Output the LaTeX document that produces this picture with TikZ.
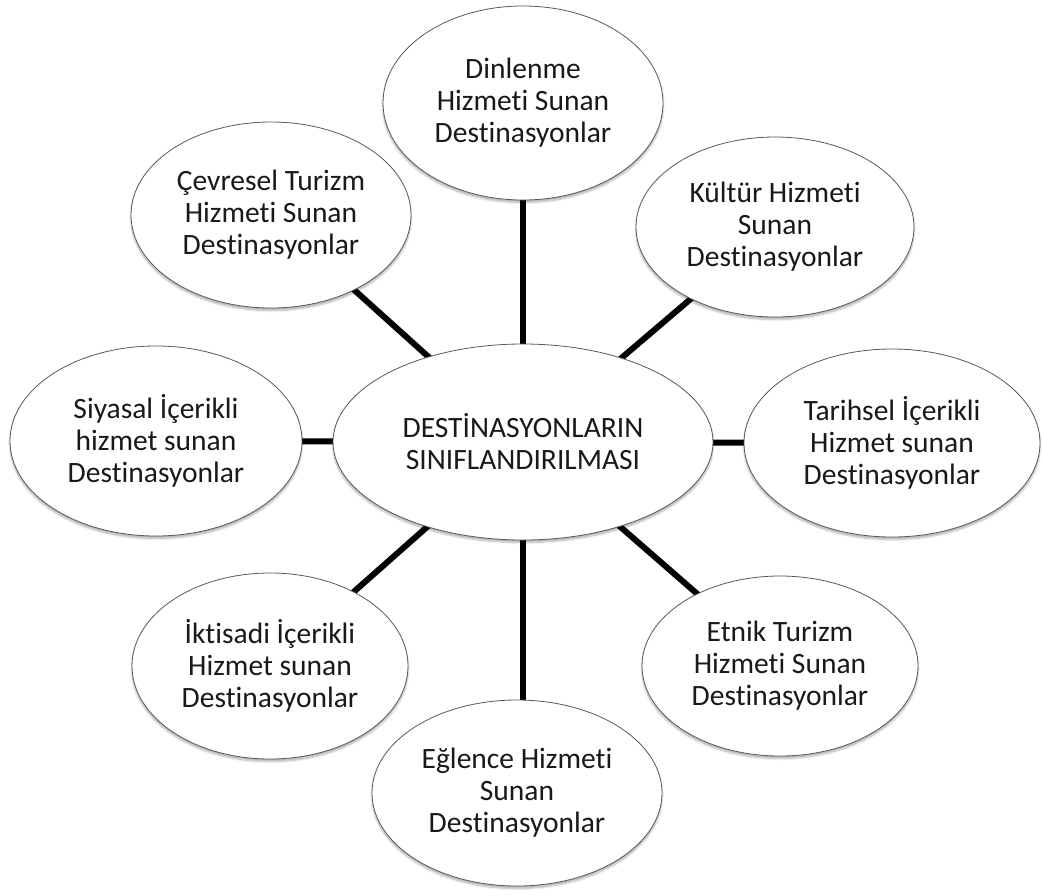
\documentclass[tikz,border=0pt]{standalone}
\usepackage{fontspec}
\setmainfont{Carlito}[Ligatures={TeX,NoCommon,NoContextual}]
\usetikzlibrary{shapes.geometric,shadows.blur,backgrounds}
\begin{document}
\begin{tikzpicture}[x=1pt,y=-1pt,
  bubble/.style={ellipse,draw=black!65,line width=0.8pt,fill=white,inner sep=0pt,
    align=center,font=\fontsize{29.5}{32}\selectfont,text=black!90,
    blur shadow={shadow xshift=0pt,shadow yshift=-2.5pt,shadow blur steps=6,shadow blur extra rounding=1.5pt,shadow opacity=30}},
  spoke/.style={line width=6pt,black}]
\useasboundingbox (0,0) rectangle (1042,895);
\node[bubble,minimum width=380pt,minimum height=196pt] (c) at (523,442) {DESTİNASYONLARIN\\SINIFLANDIRILMASI};
\node[bubble,minimum width=280pt,minimum height=194pt] (n1) at (523,103) {Dinlenme\\Hizmeti Sunan\\Destinasyonlar};
\node[bubble,minimum width=280pt,minimum height=186pt] (n2) at (271,215) {Çevresel Turizm\\Hizmeti Sunan\\Destinasyonlar};
\node[bubble,minimum width=278pt,minimum height=180pt] (n3) at (775,227) {Kültür Hizmeti\\Sunan\\Destinasyonlar};
\node[bubble,minimum width=292pt,minimum height=190pt] (n4) at (156,441) {Siyasal İçerikli\\hizmet sunan\\Destinasyonlar};
\node[bubble,minimum width=296pt,minimum height=188pt] (n5) at (892,443) {Tarihsel İçerikli\\Hizmet sunan\\Destinasyonlar};
\node[bubble,minimum width=276pt,minimum height=186pt] (n6) at (270,666) {İktisadi İçerikli\\Hizmet sunan\\Destinasyonlar};
\node[bubble,minimum width=276pt,minimum height=180pt] (n7) at (780,666) {Etnik Turizm\\Hizmeti Sunan\\Destinasyonlar};
\node[bubble,minimum width=290pt,minimum height=186pt] (n8) at (517,793) {Eğlence Hizmeti\\Sunan\\Destinasyonlar};
\begin{scope}[on background layer]
\foreach \n in {n1,n2,n3,n4,n5,n6,n7}{\draw[spoke] (c.center) -- (\n.center);}
\draw[spoke] (c.center) -- (c.center |- n8.center);
\end{scope}
\end{tikzpicture}
\end{document}
